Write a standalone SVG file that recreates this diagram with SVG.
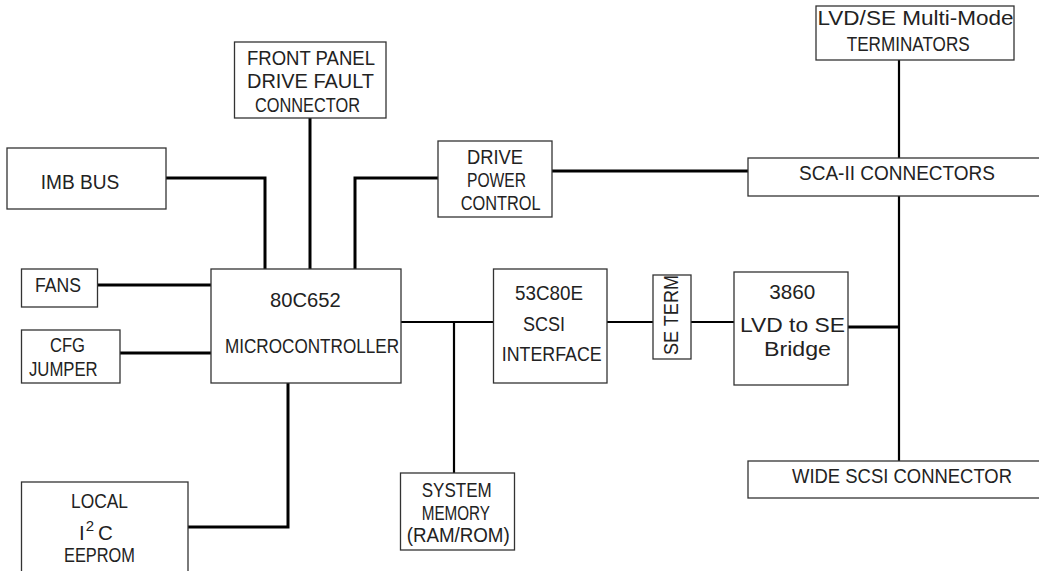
<svg xmlns="http://www.w3.org/2000/svg" width="1039" height="571" viewBox="0 0 1039 571">
<style>
.box{fill:#fff;stroke:#333;stroke-width:1.3}
.lbl{font-family:"Liberation Sans",Arial,sans-serif;font-size:20.5px;fill:#222}
.w{fill:none;stroke:#000;stroke-width:3}
.t{fill:none;stroke:#000;stroke-width:2.2}
</style>
<rect width="1039" height="571" fill="#fff"/>
<g id="connectors">
<path class="w" d="M166,178 H265 V269"/>
<path class="w" d="M310,118 V269"/>
<path class="w" d="M355,269 V178 H438"/>
<path class="w" d="M552,171 H748"/>
<path class="t" d="M899,60 V158"/>
<path class="t" d="M899,196 V461"/>
<path class="w" d="M848,327 H899"/>
<path class="w" d="M98,285 H211"/>
<path class="w" d="M120,353 H211"/>
<path class="w" d="M288,383 V527 H188"/>
<path class="t" d="M401,322 H493.5"/>
<path class="t" d="M454,322 V473"/>
<path class="t" d="M607,322 H653"/>
<path class="t" d="M691,322 H734"/>
</g>
<g id="front-panel">
<rect class="box" x="234.5" y="42" width="151.5" height="76"/>
<text class="lbl" x="247" y="65" textLength="128" lengthAdjust="spacingAndGlyphs">FRONT PANEL</text>
<text class="lbl" x="247" y="88" textLength="127" lengthAdjust="spacingAndGlyphs">DRIVE FAULT</text>
<text class="lbl" x="255" y="111.7" textLength="105" lengthAdjust="spacingAndGlyphs">CONNECTOR</text>
</g>
<g id="imb-bus">
<rect class="box" x="7" y="148" width="159" height="61"/>
<text class="lbl" x="40.7" y="189" textLength="78.6" lengthAdjust="spacingAndGlyphs">IMB BUS</text>
</g>
<g id="drive-power">
<rect class="box" x="438" y="141" width="114" height="76"/>
<text class="lbl" x="467" y="164" textLength="56" lengthAdjust="spacingAndGlyphs">DRIVE</text>
<text class="lbl" x="467" y="186.7" textLength="59" lengthAdjust="spacingAndGlyphs">POWER</text>
<text class="lbl" x="460.7" y="210" textLength="80" lengthAdjust="spacingAndGlyphs">CONTROL</text>
</g>
<g id="terminators">
<rect class="box" x="816" y="6" width="198" height="54"/>
<text class="lbl" x="817.5" y="25" textLength="196" lengthAdjust="spacingAndGlyphs">LVD/SE Multi-Mode</text>
<text class="lbl" x="846.7" y="50.7" textLength="123" lengthAdjust="spacingAndGlyphs">TERMINATORS</text>
</g>
<g id="sca-connectors">
<rect class="box" x="748" y="158" width="295" height="38"/>
<text class="lbl" x="799" y="180" textLength="196" lengthAdjust="spacingAndGlyphs">SCA-II CONNECTORS</text>
</g>
<g id="fans">
<rect class="box" x="21.5" y="269" width="76" height="38"/>
<text class="lbl" x="35" y="292" textLength="46" lengthAdjust="spacingAndGlyphs">FANS</text>
</g>
<g id="cfg-jumper">
<rect class="box" x="21.5" y="330" width="98.5" height="53"/>
<text class="lbl" x="50" y="352" textLength="35" lengthAdjust="spacingAndGlyphs">CFG</text>
<text class="lbl" x="29" y="375.7" textLength="68.7" lengthAdjust="spacingAndGlyphs">JUMPER</text>
</g>
<g id="microcontroller">
<rect class="box" x="211" y="269" width="190" height="114"/>
<text class="lbl" x="270" y="307" textLength="70.7" lengthAdjust="spacingAndGlyphs">80C652</text>
<text class="lbl" x="225" y="352.7" textLength="174" lengthAdjust="spacingAndGlyphs">MICROCONTROLLER</text>
</g>
<g id="scsi-interface">
<rect class="box" x="493.5" y="269" width="113.5" height="114"/>
<text class="lbl" x="515" y="300" textLength="68" lengthAdjust="spacingAndGlyphs">53C80E</text>
<text class="lbl" x="523" y="330.7" textLength="42" lengthAdjust="spacingAndGlyphs">SCSI</text>
<text class="lbl" x="501.7" y="361" textLength="100" lengthAdjust="spacingAndGlyphs">INTERFACE</text>
</g>
<g id="se-term">
<rect class="box" x="653" y="275" width="38" height="84"/>
<text class="lbl" transform="translate(678,315) rotate(-90)" x="-40" y="0" textLength="80" lengthAdjust="spacingAndGlyphs">SE TERM</text>
</g>
<g id="bridge">
<rect class="box" x="734" y="272" width="114" height="113"/>
<text class="lbl" x="769.3" y="299" textLength="46" lengthAdjust="spacingAndGlyphs">3860</text>
<text class="lbl" x="740" y="331.7" textLength="105" lengthAdjust="spacingAndGlyphs">LVD to SE</text>
<text class="lbl" x="764" y="356" textLength="67" lengthAdjust="spacingAndGlyphs">Bridge</text>
</g>
<g id="wide-scsi">
<rect class="box" x="748" y="461" width="295" height="37"/>
<text class="lbl" x="792" y="483" textLength="220" lengthAdjust="spacingAndGlyphs">WIDE SCSI CONNECTOR</text>
</g>
<g id="system-memory">
<rect class="box" x="400.5" y="473" width="114" height="77"/>
<text class="lbl" x="421.7" y="497" textLength="70" lengthAdjust="spacingAndGlyphs">SYSTEM</text>
<text class="lbl" x="421.7" y="520" textLength="68.3" lengthAdjust="spacingAndGlyphs">MEMORY</text>
<text class="lbl" x="406.7" y="541.7" textLength="103" lengthAdjust="spacingAndGlyphs">(RAM/ROM)</text>
</g>
<g id="eeprom">
<rect class="box" x="21.5" y="482" width="166.5" height="100"/>
<text class="lbl" x="71" y="508" textLength="57" lengthAdjust="spacingAndGlyphs">LOCAL</text>
<text class="lbl" x="79" y="540">I<tspan font-size="15" dx="1" dy="-9">2</tspan><tspan dx="4" dy="9">C</tspan></text>
<text class="lbl" x="64" y="561.7" textLength="71" lengthAdjust="spacingAndGlyphs">EEPROM</text>
</g>
</svg>
